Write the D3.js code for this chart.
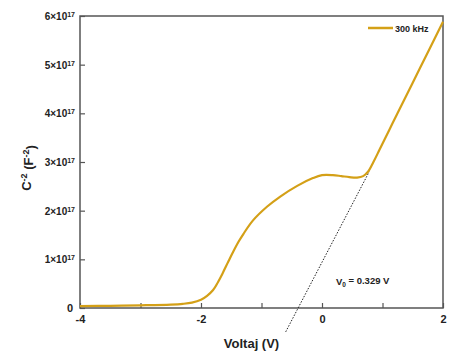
<!DOCTYPE html>
<html>
<head>
<meta charset="utf-8">
<script src="https://cdn.jsdelivr.net/npm/d3@7"></script>
<style>
  body { margin: 0; background: #fff; }
  text { font-family: "Liberation Sans", Arial, sans-serif; font-weight: bold; fill: #222; }
</style>
</head>
<body>
<div id="chart"></div>
<script>
// C^-2 vs voltage, 300 kHz (values in units of 1e17 F^-2)
const voltage = [-4, -3.5, -3, -2.5, -2.3, -2.15, -2.0, -1.9, -1.8, -1.72, -1.64, -1.55, -1.47, -1.38, -1.30, -1.14, -0.91, -0.69, -0.41, -0.15, 0.0, 0.18, 0.32, 0.45, 0.58, 0.68, 0.76, 0.85, 0.95, 1.12, 1.24, 1.62, 2.0];
const cInv2 = [0.04, 0.045, 0.055, 0.07, 0.085, 0.11, 0.17, 0.25, 0.37, 0.53, 0.72, 0.95, 1.15, 1.36, 1.52, 1.80, 2.08, 2.29, 2.51, 2.67, 2.73, 2.73, 2.71, 2.69, 2.68, 2.71, 2.80, 3.0, 3.25, 3.68, 3.98, 4.93, 5.88];
const tangentV = [-0.6, 0.78];
const tangentC = [-0.49, 2.8];
const xTicks = [-4, -2, 0, 2];
const xMinorTicks = [-3, -1, 1];
const yTicks = [0, 1, 2, 3, 4, 5, 6];
const seriesName = '300 kHz';

const W = 451, H = 361;
const margin = { top: 16, right: 8, bottom: 53, left: 80 };
const width = W - margin.left - margin.right;
const height = H - margin.top - margin.bottom;

const svg = d3.select('#chart').append('svg')
    .attr('width', W)
    .attr('height', H);

const g = svg.append('g')
    .attr('transform', `translate(${margin.left},${margin.top})`);

const x = d3.scaleLinear().domain([-4, 2]).range([0, width]);
const y = d3.scaleLinear().domain([0, 6]).range([height, 0]);

// axes with inward ticks
const xAxis = g.append('g')
    .attr('transform', `translate(0,${height})`)
    .call(d3.axisBottom(x).tickValues(xTicks.concat(xMinorTicks)).tickSizeInner(-5).tickSizeOuter(0).tickPadding(7)
        .tickFormat(d => xTicks.includes(d) ? d : ''));
xAxis.selectAll('text').style('font-size', '11px').attr('fill', '#222');

const yAxis = g.append('g')
    .call(d3.axisLeft(y).tickValues(yTicks).tickSizeInner(-5).tickSizeOuter(0).tickFormat(''));

[xAxis, yAxis].forEach(a => {
    a.select('.domain').remove();
    a.selectAll('line').attr('stroke', '#555').attr('stroke-width', 1.2);
});

// y tick labels with superscript
yAxis.selectAll('.tick').each(function (d) {
    const t = d3.select(this).append('text')
        .attr('x', -5)
        .attr('dy', '0.35em')
        .attr('text-anchor', 'end')
        .style('font-size', '10px');
    if (d === 0) {
        t.text('0').style('font-size', '11px').attr('x', -7);
    } else {
        t.append('tspan').text(`${d}\u00d710`);
        t.append('tspan').text('17').attr('dy', '-0.45em').style('font-size', '7px');
    }
});

// frame
g.append('rect')
    .attr('width', width)
    .attr('height', height)
    .attr('fill', 'none')
    .attr('stroke', '#555')
    .attr('stroke-width', 1.5);

// tangent (dotted), extends below axis
const tangent = d3.line().x((d, i) => x(tangentV[i])).y((d, i) => y(tangentC[i]));
g.append('path')
    .datum(tangentV)
    .attr('fill', 'none')
    .attr('stroke', '#222')
    .attr('stroke-width', 1)
    .attr('stroke-dasharray', '1.5,1.5')
    .attr('d', tangent);

// curve
const line = d3.line()
    .x((d, i) => x(voltage[i]))
    .y(d => y(d))
    .curve(d3.curveCatmullRom.alpha(0.5));
g.append('path')
    .datum(cInv2)
    .attr('fill', 'none')
    .attr('stroke', '#d4a017')
    .attr('stroke-width', 2.2)
    .attr('d', line);

// legend
g.append('line')
    .attr('x1', width - 75).attr('x2', width - 50)
    .attr('y1', 12).attr('y2', 12)
    .attr('stroke', '#d4a017').attr('stroke-width', 2.5);
g.append('text')
    .attr('x', width - 48).attr('y', 15.5)
    .style('font-size', '9px')
    .text(seriesName);

// V0 annotation
const ann = g.append('text')
    .attr('x', x(0.23)).attr('y', y(0.47))
    .style('font-size', '9.5px');
ann.append('tspan').text('V');
ann.append('tspan').text('0').attr('dy', '0.3em').style('font-size', '6.5px');
ann.append('tspan').text(' = 0.329 V').attr('dy', '-0.3em');

// axis titles
svg.append('text')
    .attr('x', margin.left + width / 2 - 10)
    .attr('y', 348)
    .attr('text-anchor', 'middle')
    .style('font-size', '13px')
    .text('Voltaj (V)');

const yt = svg.append('text')
    .attr('transform', `translate(31,${margin.top + height / 2 + 6}) rotate(-90)`)
    .attr('text-anchor', 'middle')
    .style('font-size', '13px');
yt.append('tspan').text('C');
yt.append('tspan').text('-2').attr('dy', '-0.45em').style('font-size', '9px');
yt.append('tspan').text(' (F').attr('dy', '0.45em');
yt.append('tspan').text('-2').attr('dy', '-0.45em').style('font-size', '9px');
yt.append('tspan').text(')').attr('dy', '0.45em');
</script>
</body>
</html>
